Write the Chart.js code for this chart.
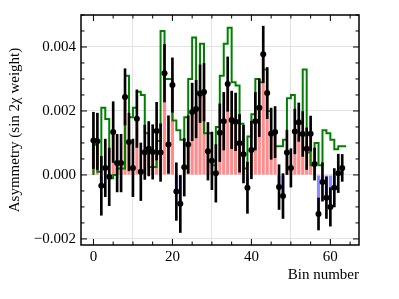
<!DOCTYPE html>
<html>
<head>
<meta charset="utf-8">
<script src="https://cdn.jsdelivr.net/npm/chart.js@4"></script>
<style>
  html, body { margin: 0; padding: 0; background: #fff; }
  canvas { display: block; }
</style>
</head>
<body>
<canvas id="asymChart" width="399" height="299"></canvas>
<script>
// bin numbers
const bins = [
  0, 1, 2, 3, 4, 5, 6, 7, 8, 9, 10, 11, 12, 13, 14, 15,
  16, 17, 18, 19, 20, 21, 22, 23, 24, 25, 26, 27, 28, 29, 30, 31,
  32, 33, 34, 35, 36, 37, 38, 39, 40, 41, 42, 43, 44, 45, 46, 47,
  48, 49, 50, 51, 52, 53, 54, 55, 56, 57, 58, 59, 60, 61, 62, 63
];

// measured asymmetry per bin
const asym = [
  0.00108, 0.00105, -0.00034, 0.00022, -0.00006, 0.00134, 0.00037, 0.00037,
  0.00244, 0.00103, 0.00022, 0.00176, 0.0001, 0.00071, 0.00082, 0.00072,
  0.00137, 0.0007, 0.00318, 0.00095, 0.00281, -0.00052, -0.0009, 0.00024,
  0.00095, 0.00197, 0.00206, 0.00254, 0.00259, 0.00074, 0.00044, 0.00005,
  0.00132, 0.00168, 0.00284, 0.00172, 0.00166, 0.00099, 0.00065, -0.0004,
  0.00078, 0.00168, 0.0021, 0.00377, 0.00256, 0.00129, 0.00134, -0.00038,
  -0.00066, 0.0007, 0.00022, 0.00136, 0.00165, 0.00128, 0.00082, 0.00129,
  0.00034, -0.00122, -0.00022, -0.00071, -0.001, -0.0004, 0.00005, 0.00022
];

// statistical errors per bin
const asymErr = [
  0.00088, 0.00088, 0.00092, 0.0009, 0.0009, 0.00095, 0.0009, 0.0009,
  0.00088, 0.0009, 0.0009, 0.0009, 0.0009, 0.00085, 0.00085, 0.00085,
  0.0009, 0.0009, 0.0009, 0.0009, 0.00085, 0.0009, 0.0009, 0.0009,
  0.0009, 0.0009, 0.0009, 0.0009, 0.0009, 0.0009, 0.0009, 0.0009,
  0.0009, 0.0009, 0.00085, 0.0009, 0.0009, 0.0009, 0.0009, 0.0008,
  0.0009, 0.0009, 0.0009, 0.00088, 0.0008, 0.0008, 0.0008, 0.0007,
  0.0007, 0.0007, 0.0006, 0.0007, 0.0006, 0.0007, 0.00065, 0.00055,
  0.0005, 0.0005, 0.0006, 0.00065, 0.0006, 0.0006, 0.0006, 0.00042
];

// green step curve, one level per bin
const expected = [
  0.0, 0.00094, 0.0001, 0.0021, 0.00175, -0.0001, 0.0, 0.0002,
  0.0002, 0.0031, 0.0018, 0.0021, 0.0026, 0.0025, 0.0013, 0.00025,
  0.00025, 0.00106, 0.0045, 0.003, 0.003, 0.0017, 0.0014, 0.0011,
  0.0018, 0.003, 0.0043, 0.0026, 0.0041, 0.0013, 0.0013, 0.0003,
  0.0015, 0.0031, 0.0041, 0.0046, 0.0029, 0.0028, 0.0016, 0.0002,
  0.0012, 0.0019, 0.003, 0.0029, 0.0033, 0.002, 0.0013, 0.0009,
  0.0009, 0.0011, 0.0024, 0.0025, 0.0016, 0.0016, 0.0033, 0.0007,
  0.0003, 0.001, 0.0003, 0.0014, 0.0013, 0.0011, 0.0008, 0.0009
];

const xTicks = [0, 20, 40, 60];
const yTicks = [-0.002, 0, 0.002, 0.004];

const FONT = "'Liberation Serif', 'DejaVu Serif', serif";
const minus = (s) => s.replace("-", "\u2212");

// step line needs a closing point at the right edge of the last bin
const stepPoints = expected.map((v, i) => ({ x: bins[i], y: v }));
stepPoints.push({ x: bins[bins.length - 1] + 1, y: expected[expected.length - 1] });

// frame + inward ticks on all four sides, matplotlib style
const frameTicks = {
  id: "frameTicks",
  afterDraw(chart) {
    const { ctx, chartArea: a, scales } = chart;
    const xs = scales.x, ys = scales.y;
    ctx.save();
    ctx.strokeStyle = "#000";
    ctx.lineWidth = 1;
    const tick = (px, len, horiz) => {
      ctx.beginPath();
      if (horiz) {
        ctx.moveTo(px, a.bottom); ctx.lineTo(px, a.bottom - len);
        ctx.moveTo(px, a.top); ctx.lineTo(px, a.top + len);
      } else {
        ctx.moveTo(a.left, px); ctx.lineTo(a.left + len, px);
        ctx.moveTo(a.right, px); ctx.lineTo(a.right - len, px);
      }
      ctx.stroke();
    };
    for (let v = Math.ceil(xs.min / 5) * 5; v <= xs.max; v += 5) {
      tick(xs.getPixelForValue(v), v % 20 === 0 ? 6 : 3.5, true);
    }
    for (let k = Math.ceil(ys.min / 0.0005); k * 0.0005 <= ys.max; k++) {
      tick(ys.getPixelForValue(k * 0.0005), k % 4 === 0 ? 6 : 3.5, false);
    }
    ctx.lineWidth = 1.5;
    ctx.strokeRect(a.left, a.top, a.right - a.left, a.bottom - a.top);
    ctx.restore();
  },
};

const ctx = document.getElementById("asymChart").getContext("2d");
const chart = new Chart(ctx, {
  type: "line",
  data: {
    datasets: [
      {
        type: "bar",
        data: asym.map((v, i) => ({ x: bins[i], y: v })),
        backgroundColor: asym.map((v) =>
          v >= 0 ? "rgba(255, 0, 0, 0.45)" : "rgba(0, 0, 255, 0.45)"
        ),
        borderWidth: 0,
        barPercentage: 0.8,
        categoryPercentage: 1,
        grouped: false,
        order: 4,
      },
      {
        type: "line",
        data: stepPoints,
        stepped: "after",
        borderColor: "#008000",
        borderWidth: 2,
        pointRadius: 0,
        fill: false,
        order: 3,
      },
      {
        type: "bar",
        data: asym.map((v, i) => ({ x: bins[i], y: [v - asymErr[i], v + asymErr[i]] })),
        backgroundColor: "#000",
        borderWidth: 0,
        barThickness: 2,
        grouped: false,
        order: 2,
      },
      {
        type: "line",
        data: asym.map((v, i) => ({ x: bins[i], y: v })),
        showLine: false,
        pointRadius: 3,
        pointBackgroundColor: "#000",
        pointBorderWidth: 0,
        order: 1,
      },
    ],
  },
  options: {
    responsive: false,
    animation: false,
    devicePixelRatio: 1,
    events: [],
    layout: { padding: { left: 0, right: 40, top: 15, bottom: 0 } },
    plugins: { legend: { display: false }, tooltip: { enabled: false } },
    scales: {
      x: {
        type: "linear",
        min: -3.15,
        max: 67.25,
        offset: false,
        afterFit: (s) => { s.height = 54; },
        afterBuildTicks: (s) => { s.ticks = xTicks.map((v) => ({ value: v })); },
        border: { display: false },
        grid: { color: "#e3e3e3", lineWidth: 1, drawTicks: false },
        ticks: {
          padding: 3,
          color: "#000",
          font: { family: FONT, size: 15 },
          maxRotation: 0,
          callback: (v) => String(v),
        },
        title: {
          display: true,
          text: "Bin number",
          align: "end",
          color: "#000",
          font: { family: FONT, size: 15 },
          padding: { top: 0, bottom: 15 },
        },
      },
      y: {
        type: "linear",
        min: -0.00219,
        max: 0.005,
        afterFit: (s) => { s.width = 81; },
        afterBuildTicks: (s) => { s.ticks = yTicks.map((v) => ({ value: v })); },
        border: { display: false },
        grid: { color: "#e3e3e3", lineWidth: 1, drawTicks: false },
        ticks: {
          padding: 5,
          color: "#000",
          font: { family: FONT, size: 15 },
          callback: (v) => minus((Math.abs(v) < 1e-9 ? 0 : v).toFixed(3)),
        },
        title: {
          display: true,
          text: "Asymmetry (sin 2\u03c7 weight)",
          color: "#000",
          font: { family: FONT, size: 15 },
          padding: { top: 6, bottom: 0 },
        },
      },
    },
  },
  plugins: [frameTicks],
});
</script>
</body>
</html>
